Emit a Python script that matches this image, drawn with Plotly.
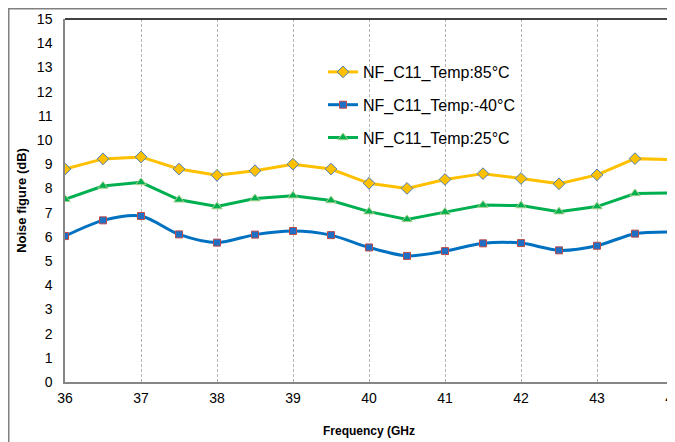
import plotly.graph_objects as go

freq = [36, 36.5, 37, 37.5, 38, 38.5, 39, 39.5, 40, 40.5, 41, 41.5, 42, 42.5, 43, 43.5, 44]
nf_85 = [8.8, 9.22, 9.3, 8.8, 8.54, 8.73, 9.0, 8.8, 8.21, 8.0, 8.37, 8.61, 8.41, 8.19, 8.56, 9.23, 9.19]
nf_m40 = [6.03, 6.68, 6.86, 6.1, 5.76, 6.09, 6.24, 6.07, 5.56, 5.21, 5.41, 5.73, 5.74, 5.44, 5.63, 6.13, 6.2]
nf_25 = [7.55, 8.1, 8.25, 7.53, 7.25, 7.58, 7.7, 7.5, 7.04, 6.72, 7.02, 7.31, 7.29, 7.04, 7.25, 7.79, 7.81]

x_ticks = [36, 37, 38, 39, 40, 41, 42, 43, 44]
y_ticks = list(range(0, 16))

FONT = "Liberation Sans, Arial, sans-serif"

ML, MR, MT, MB = 57, 10, 11, 68
W, H = 675, 442
PW = W - ML - MR
PH = H - MT - MB

fig = go.Figure()
fig.add_trace(go.Scatter(
    x=freq, y=nf_85, name="NF_C11_Temp:85°C", legendgroup="a",
    mode="lines+markers",
    line=dict(color="#FFC000", width=3),
    marker=dict(symbol="diamond", size=9, color="#FFC000",
                line=dict(color="#4A7EBB", width=1)),
))
fig.add_trace(go.Scatter(
    x=freq, y=nf_m40, name="NF_C11_Temp:-40°C", legendgroup="b",
    mode="lines+markers",
    line=dict(color="#0070C0", width=3, shape="spline", smoothing=0.8),
    marker=dict(symbol="square", size=7, color="#1F6FC5",
                line=dict(color="#BE4B48", width=1)),
))
fig.add_trace(go.Scatter(
    x=freq, y=nf_25, name="NF_C11_Temp:25°C", legendgroup="c",
    mode="lines+markers",
    line=dict(color="#00B050", width=3),
    marker=dict(symbol="triangle-up", size=9, color="#00B050",
                line=dict(color="#A9D18E", width=1)),
))

# plot-area frame (top black, right dark gray)
fig.add_shape(type="line", xref="paper", yref="paper", x0=0, x1=1, y0=1, y1=1,
              line=dict(color="#000000", width=1.5))
fig.add_shape(type="line", xref="paper", yref="paper", x0=1, x1=1, y0=0, y1=1,
              line=dict(color="#595959", width=2))
# outer chart border
fig.add_shape(type="rect", xref="paper", yref="paper",
              x0=(0.75 - ML) / PW, x1=1.05, y0=-0.3, y1=(H - MB - 0.75) / PH,
              line=dict(color="#808080", width=1.5), fillcolor="rgba(0,0,0,0)",
              layer="below")

fig.update_layout(
    width=W, height=H,
    margin=dict(l=ML, r=MR, t=MT, b=MB, autoexpand=False),
    paper_bgcolor="white", plot_bgcolor="white",
    font=dict(family=FONT, color="#000000", size=13),
    showlegend=True,
    legend=dict(x=(315 - ML) / PW, y=(PH - 36) / PH, xanchor="left", yanchor="top",
                font=dict(size=16, family=FONT), bgcolor="rgba(0,0,0,0)",
                tracegroupgap=9, itemwidth=30, traceorder="grouped"),
    xaxis=dict(
        range=[36, 44], tickvals=x_ticks, ticktext=[str(v) for v in x_ticks],
        automargin=False,
        showgrid=True, gridcolor="#B4B4B4", griddash="3px,2px", gridwidth=1,
        showline=True, linecolor="#868686", linewidth=1.5,
        ticks="outside", ticklen=2, tickcolor="rgba(0,0,0,0)",
        tickfont=dict(size=14, family=FONT),
        zeroline=False,
        title=dict(text="<b>Frequency (GHz</b>", font=dict(size=12, family=FONT), standoff=22),
    ),
    yaxis=dict(
        range=[0, 15], tickvals=y_ticks, automargin=False,
        showgrid=False, showline=True, linecolor="#868686", linewidth=1.5,
        ticks="outside", ticklen=8, tickcolor="rgba(0,0,0,0)",
        tickfont=dict(size=14, family=FONT),
        zeroline=False,
        title=dict(text="<b>Noise figure (dB)</b>", font=dict(size=13, family=FONT), standoff=7),
    ),
)

fig.write_html("out.html")
